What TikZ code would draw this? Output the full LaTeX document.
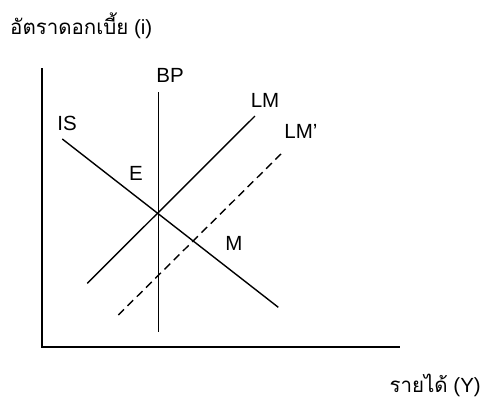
\documentclass[tikz,border=0pt]{standalone}
\usepackage{fontspec}
\setmainfont{Liberation Sans}
\newfontfamily\thaifont[Script=Thai]{Loma}
\usetikzlibrary{calc}

\begin{document}
\begin{tikzpicture}[x=1pt, y=-1pt,
    every node/.style={font=\fontsize{20.5}{24}\selectfont, inner sep=0pt},
    curve/.style={line width=1.4pt}]

    \useasboundingbox (0,0) rectangle (483,402);

    % Define the axes
    \coordinate (O) at (42,347);
    \coordinate (Ytop) at (42,68);
    \coordinate (Xend) at (400,347);
    \draw[curve] (Ytop) -- (O) -- (Xend);

    % Axis labels
    \node (ylab) at (10,34) [anchor = base west] {{\thaifont อัตราดอกเบี้ย} (i)};
    \node (xlab) at (481,392) [anchor = base east] {{\thaifont รายได้} (Y)};

    % Draw the BP line
    \coordinate (BP1) at (158.7,92);
    \coordinate (BP2) at (158.7,332);
    \draw[curve] (BP1) -- (BP2);

    % Draw the IS line
    \coordinate (IS1) at (62.3,139);
    \coordinate (IS2) at (278.3,307.3);
    \draw[curve] (IS1) -- (IS2);

    % Draw the LM lines
    \coordinate (LM1) at (87.3,283.3);
    \coordinate (LM2) at (255,116);
    \draw[curve] (LM1) -- (LM2);
    \coordinate (LMb1) at (118.3,315);
    \coordinate (LMb2) at (281.7,153.3);
    \draw[curve, dash pattern=on 8pt off 5pt] (LMb1) -- (LMb2);

    % Label the curves and points
    \node (bp) at (170,75) {BP};
    \node (is) at (67,123) {IS};
    \node (lm) at (265,100) {LM};
    \node (lmb) at (301,131) {LM'};
    \node (e) at (136,173) {E};
    \node (m) at (234,243) {M};

\end{tikzpicture}
\end{document}
